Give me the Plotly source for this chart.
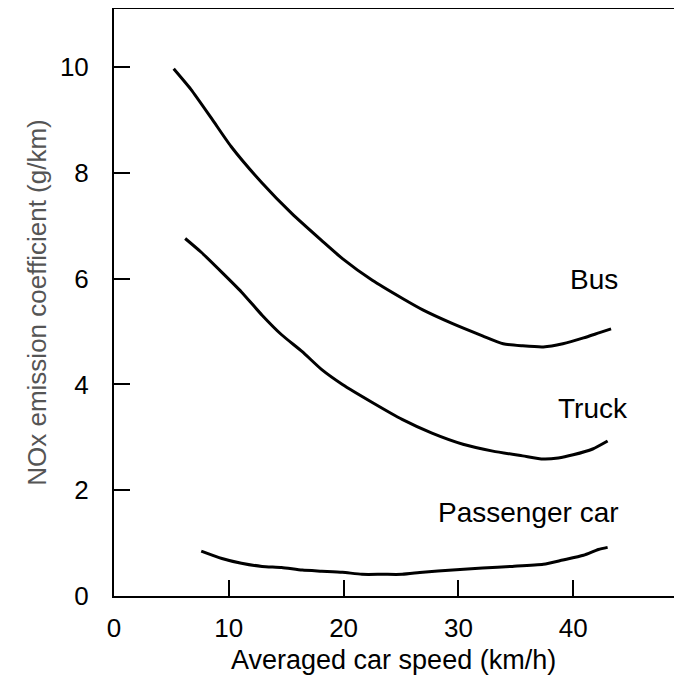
import plotly.graph_objects as go

# Averaged car speed (km/h) and NOx emission coefficient (g/km)
bus_speed = [5.2, 6.7, 8.5, 10.2, 12.9, 15.5, 18.1, 19.9, 22.5, 25.1, 26.9, 29.5, 32.1, 33.9, 35.6, 37.4, 39.1, 40.9, 42.3, 43.3]
bus_nox = [9.97, 9.58, 9.03, 8.50, 7.81, 7.23, 6.72, 6.38, 5.97, 5.63, 5.41, 5.15, 4.92, 4.77, 4.73, 4.71, 4.77, 4.88, 4.98, 5.05]

truck_speed = [6.2, 7.6, 9.4, 11.1, 12.9, 14.6, 16.4, 18.1, 19.9, 22.5, 25.1, 27.7, 30.4, 33.0, 35.6, 37.4, 38.7, 40.0, 41.7, 43.0]
truck_nox = [6.76, 6.50, 6.12, 5.75, 5.31, 4.94, 4.62, 4.28, 4.00, 3.66, 3.34, 3.08, 2.87, 2.74, 2.65, 2.59, 2.61, 2.67, 2.78, 2.93]

car_speed = [7.6, 9.4, 11.1, 12.9, 14.6, 16.4, 18.1, 19.9, 21.6, 23.4, 25.1, 26.9, 29.5, 32.1, 34.7, 37.4, 39.1, 40.9, 42.2, 43.0]
car_nox = [0.85, 0.71, 0.62, 0.56, 0.54, 0.49, 0.47, 0.45, 0.41, 0.41, 0.41, 0.45, 0.49, 0.53, 0.56, 0.60, 0.68, 0.77, 0.88, 0.92]

x_ticks = [0, 10, 20, 30, 40]
y_ticks = [0, 2, 4, 6, 8, 10]

FONT = "Liberation Sans, Arial, Helvetica, sans-serif"

fig = go.Figure()
for xs, ys in [(bus_speed, bus_nox), (truck_speed, truck_nox), (car_speed, car_nox)]:
    fig.add_trace(go.Scatter(x=xs, y=ys, mode="lines",
                             line=dict(color="black", width=3, shape="spline", smoothing=0.6),
                             showlegend=False, hoverinfo="skip"))

for txt, x, y in [("Bus", 41.8, 5.99), ("Truck", 41.7, 3.55), ("Passenger car", 36.1, 1.57)]:
    fig.add_annotation(x=x, y=y, text=txt, showarrow=False,
                       font=dict(family=FONT, size=28, color="black"))

# x-axis title
fig.add_annotation(xref="paper", yref="paper", x=0.492, y=-0.109, yanchor="middle",
                   text="Averaged car speed (km/h)", showarrow=False,
                   font=dict(family=FONT, size=27, color="black"))

# the page body has an 8px margin, so the figure is sized/offset to compensate
fig.update_layout(
    width=674, height=670,
    margin=dict(l=106, r=0, t=1, b=82),
    paper_bgcolor="white", plot_bgcolor="white",
    font=dict(family=FONT, size=26, color="black"),
)
fig.update_xaxes(
    range=[0, 49.48], tickvals=x_ticks, ticks="inside", ticklen=16, tickwidth=1.5,
    tickcolor="black", showline=True, linecolor="black", linewidth=2, mirror=True,
    showgrid=False, zeroline=False, ticklabelstandoff=8,
)
fig.update_yaxes(
    range=[0, 11.10], tickvals=y_ticks, ticks="inside", ticklen=16, tickwidth=1.5,
    tickcolor="black", showline=True, linecolor="black", linewidth=2, mirror=False,
    showgrid=False, zeroline=False, ticklabelstandoff=18,
    title=dict(text="NOx emission coefficient (g/km)", font=dict(size=26, color="#555555"), standoff=6),
)

fig.write_html("out.html")
